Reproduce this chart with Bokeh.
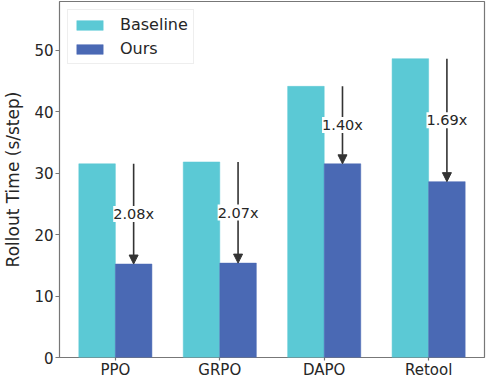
from bokeh.plotting import figure
from bokeh.models import ColumnDataSource, Arrow, NormalHead, LabelSet, Legend, LegendItem, FixedTicker, Range1d
from bokeh.core.properties import value
from bokeh.embed import file_html
from bokeh.resources import INLINE

categories = ["PPO", "GRPO", "DAPO", "Retool"]
baseline = [31.5, 31.8, 44.1, 48.6]
ours = [15.2, 15.35, 31.5, 28.6]
speedup = ["2.08x", "2.07x", "1.40x", "1.69x"]
y_ticks = [0, 10, 20, 30, 40, 50]

BASE_C = "#5BC9D5"
OURS_C = "#4A69B4"
FONT = "DejaVu Sans"
TXT = "#262626"

w = 0.35
idx = list(range(len(categories)))
src = ColumnDataSource(dict(
    xb=[i - w / 2 for i in idx],
    xo=[i + w / 2 for i in idx],
    base=baseline,
    ours=ours,
    mid=[(b + o) / 2 for b, o in zip(baseline, ours)],
    lab=speedup,
))

p = figure(width=487, height=381, output_backend="svg", toolbar_location=None,
           x_range=Range1d(-0.535, 3.535), y_range=Range1d(0, 57.9),
           min_border_left=56, min_border_right=3, min_border_top=1, min_border_bottom=0)
p.background_fill_color = "white"
p.border_fill_color = "white"
p.xgrid.visible = False
p.ygrid.visible = False
p.outline_line_color = "#777777"
p.outline_line_width = 1.2

rb = p.vbar(x="xb", top="base", width=w, source=src, fill_color=BASE_C, line_color=BASE_C, line_width=0.5)
ro = p.vbar(x="xo", top="ours", width=w, source=src, fill_color=OURS_C, line_color=OURS_C, line_width=0.5)

for i in idx:
    p.add_layout(Arrow(x_start=i + w / 2, y_start=baseline[i], x_end=i + w / 2, y_end=ours[i],
                       line_color="#333333", line_width=1.6,
                       end=NormalHead(size=9, fill_color="#333333", line_color="#333333", line_width=1)))

labels = LabelSet(x="xo", y="mid", text="lab", source=src, text_align="center", text_baseline="middle",
                  text_font=value(FONT), text_font_size=value("14.5px"), text_color=TXT,
                  background_fill_color="white", background_fill_alpha=1.0)
p.add_layout(labels)

# axes
p.xaxis.ticker = FixedTicker(ticks=idx)
p.xaxis.major_label_overrides = {i: c for i, c in zip(idx, categories)}
p.xaxis.minor_tick_line_color = None
p.yaxis.ticker = FixedTicker(ticks=y_ticks)
p.yaxis.minor_tick_line_color = None
for ax in (p.xaxis[0], p.yaxis[0]):
    ax.axis_line_color = None
    ax.major_tick_line_color = "#777777"
    ax.major_tick_line_width = 1.2
    ax.major_tick_out = 4
    ax.major_tick_in = 0
    ax.major_label_text_font = FONT
    ax.major_label_text_font_size = "15px"
    ax.major_label_text_color = TXT
    ax.major_label_standoff = 2
p.xaxis.major_tick_out = 3
p.xaxis.major_label_standoff = 0
p.yaxis.axis_label = "Rollout Time (s/step)"
p.yaxis.axis_label_text_font = FONT
p.yaxis.axis_label_text_font_size = "17px"
p.yaxis.axis_label_text_font_style = "normal"
p.yaxis.axis_label_text_color = TXT
p.yaxis.axis_label_standoff = 8

legend = Legend(items=[LegendItem(label="Baseline", renderers=[rb]), LegendItem(label="Ours", renderers=[ro])],
                location="top_left")
legend.label_text_font = FONT
legend.label_text_font_size = "16px"
legend.label_text_color = TXT
legend.glyph_width = 33
legend.glyph_height = 12
legend.label_standoff = 14
legend.spacing = 5
legend.padding = 5
legend.margin = 8
legend.border_line_color = "#dddddd"
legend.border_line_width = 1
legend.background_fill_alpha = 0.9
p.add_layout(legend)

open("out.html", "w").write(file_html(p, INLINE))
